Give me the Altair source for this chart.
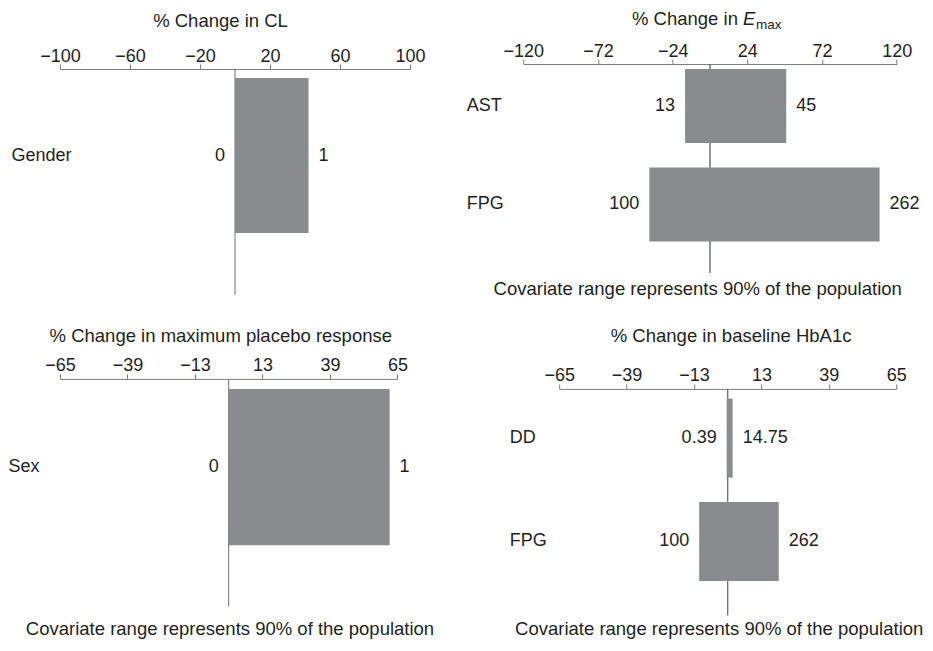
import altair as alt
import pandas as pd

FONT = "Liberation Sans"
BAR = "#8a8b8f"
AXC = "#7d7d7d"
REF = "#6d6e71"
TXT = "#231f20"
FOOT = "Covariate range represents 90% of the population"

# ---- Panel 1: % change in CL
p1_cov = ["Gender"]
p1_low_lab = ["0"]
p1_high_lab = ["1"]
p1_low = [0]
p1_high = [42]
p1_ticks = [-100, -60, -20, 20, 60, 100]

# ---- Panel 2: % change in Emax
p2_cov = ["AST", "FPG"]
p2_low_lab = ["13", "100"]
p2_high_lab = ["45", "262"]
p2_low = [-16, -39]
p2_high = [49, 109]
p2_ticks = [-120, -72, -24, 24, 72, 120]

# ---- Panel 3: % change in maximum placebo response
p3_cov = ["Sex"]
p3_low_lab = ["0"]
p3_high_lab = ["1"]
p3_low = [0]
p3_high = [62]
p3_ticks = [-65, -39, -13, 13, 39, 65]

# ---- Panel 4: % change in baseline HbA1c
p4_cov = ["DD", "FPG"]
p4_low_lab = ["0.39", "100"]
p4_high_lab = ["14.75", "262"]
p4_low = [-0.4, -11]
p4_high = [1.9, 19.7]
p4_ticks = [-65, -39, -13, 13, 39, 65]


def panel(covs, low_lab, high_lab, low, high, ticks, width, height,
          pad_inner, pad_outer, align, axis_offset, label_pad,
          title=None, title_x=0, title_y=0, foot=None, extra=()):
    df = pd.DataFrame({"cov": covs, "low": low, "high": high,
                       "low_lab": low_lab, "high_lab": high_lab, "zero": 0})
    lim = max(abs(t) for t in ticks)
    axis_kw = dict(orient="top", values=ticks, grid=False, format="d",
                   domainColor=AXC, tickColor=AXC, tickSize=5, labelPadding=-1,
                   labelFontSize=18, labelColor=TXT, labelFlush=False,
                   labelOverlap=False, labelBound=False, offset=axis_offset)
    if title is not None:
        axis_kw.update(title=title, titleFontSize=18.5, titleFontWeight="normal",
                       titleColor=TXT, titleX=title_x, titleY=title_y,
                       titleAlign="center", titleBaseline="alphabetic")
    else:
        axis_kw.update(title=None)
    xaxis = alt.Axis(**axis_kw)
    xscale = alt.Scale(domain=[-lim, lim], nice=False, zero=False)
    yaxis = alt.Axis(orient="left", title=None, domain=False, ticks=False, tickSize=0,
                     labelAlign="left", labelBaseline="middle", labelPadding=label_pad,
                     labelFontSize=18, labelColor=TXT, labelLimit=300)
    yscale = alt.Scale(paddingInner=pad_inner, paddingOuter=pad_outer, align=align)

    def X(f):
        return alt.X(f + ":Q", scale=xscale, axis=xaxis, title=None)

    def Y():
        return alt.Y("cov:N", sort=covs, scale=yscale, axis=yaxis)

    bars = alt.Chart(df).mark_bar(color=BAR).encode(
        x=X("low"), x2="high:Q", y=Y(),
    )
    rule = alt.Chart(df).mark_rule(color=REF, strokeWidth=1).encode(
        x=X("zero"),
        y=alt.value(-axis_offset),
        y2=alt.value(height),
    )
    lo = alt.Chart(df).mark_text(align="right", baseline="middle", dx=-10,
                                 fontSize=18, color=TXT).encode(
        x=X("low"), y=Y(), text="low_lab:N",
    )
    hi = alt.Chart(df).mark_text(align="left", baseline="middle", dx=10,
                                 fontSize=18, color=TXT).encode(
        x=X("high"), y=Y(), text="high_lab:N",
    )
    layers = [rule, bars, lo, hi]
    if foot is not None:
        fx, fy = foot
        layers.append(
            alt.Chart(pd.DataFrame({"t": [FOOT]})).mark_text(
                align="center", baseline="alphabetic", fontSize=18.5, color=TXT
            ).encode(x=alt.value(fx), y=alt.value(fy), text="t:N")
        )
    layers.extend(extra)
    return alt.layer(*layers).properties(width=width, height=height)


# title pieces for the Emax panel (italic E with subscript "max")
t2_parts = ["% Change in ", "E", "max"]
t2_title = [
    alt.Chart(pd.DataFrame({"t": [t2_parts[0]]})).mark_text(
        align="left", baseline="alphabetic", fontSize=18.5, color=TXT
    ).encode(x=alt.value(108.7), y=alt.value(-44), text="t:N"),
    alt.Chart(pd.DataFrame({"t": [t2_parts[1]]})).mark_text(
        align="left", baseline="alphabetic", fontSize=18.5, fontStyle="italic", color=TXT
    ).encode(x=alt.value(219.8), y=alt.value(-44), text="t:N"),
    alt.Chart(pd.DataFrame({"t": [t2_parts[2]]})).mark_text(
        align="left", baseline="alphabetic", fontSize=13.5, color=TXT
    ).encode(x=alt.value(232.6), y=alt.value(-40.5), text="t:N"),
]

p1 = panel(p1_cov, p1_low_lab, p1_high_lab, p1_low, p1_high, p1_ticks,
           350, 226, 0, 0.229, 0.127, 0, 49,
           title="% Change in CL", title_x=160, title_y=-42.3)
p2 = panel(p2_cov, p2_low_lab, p2_high_lab, p2_low, p2_high, p2_ticks,
           373.4, 204, 0.248, 0.1605, 0, 5, 57,
           foot=(174.4, 226), extra=t2_title)
p3 = panel(p3_cov, p3_low_lab, p3_high_lab, p3_low, p3_high, p3_ticks,
           337.4, 217.4, 0, 0.195, 0, 10, 52,
           title="% Change in maximum placebo response", title_x=160.3, title_y=-37,
           foot=(170, 246))
p4 = panel(p4_cov, p4_low_lab, p4_high_lab, p4_low, p4_high, p4_ticks,
           337, 226.4, 0.235, 0.2135, 0.22, 0, 50,
           title="% Change in baseline HbA1c", title_x=171.4, title_y=-47.6,
           foot=(160, 246))

row1 = alt.hconcat(p1, p2, spacing=40.3)
row2 = alt.hconcat(p3, p4, spacing=74.2)

chart = alt.vconcat(row1, row2, spacing=26.9).properties(
    padding={"left": 0, "top": 2, "right": 0, "bottom": 0}
).configure(font=FONT).configure_view(stroke=None)

chart.save("out.html", embed_options={"renderer": "svg", "actions": False})
